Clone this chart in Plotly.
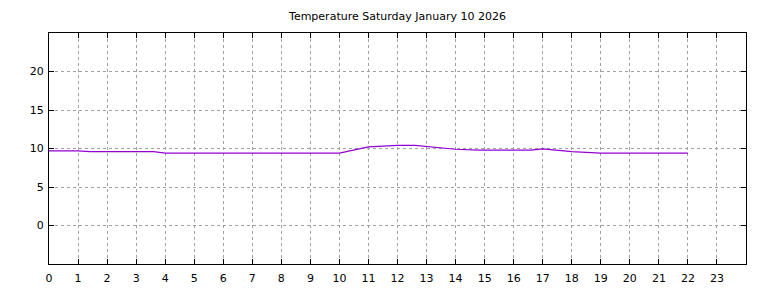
import plotly.graph_objects as go

hours = [0, 1, 1.4, 3.6, 4, 10, 11, 12, 12.6, 14, 14.8, 16.6, 17, 18, 19, 22]
temps = [9.7, 9.7, 9.6, 9.6, 9.4, 9.4, 10.2, 10.4, 10.4, 9.9, 9.8, 9.8, 9.95, 9.6, 9.4, 9.4]
x_ticks = list(range(0, 24))
y_ticks = [0, 5, 10, 15, 20]
title = "Temperature Saturday January 10 2026"

fig = go.Figure()
fig.add_trace(go.Scatter(x=hours, y=temps, mode="lines",
                         line=dict(color="#9400D3", width=1.2), showlegend=False))

axis_common = dict(
    showline=True, linecolor="black", linewidth=1, mirror="allticks",
    ticks="inside", ticklen=5, tickcolor="black", tickwidth=1,
    showgrid=True, gridcolor="#a0a0a0", gridwidth=1, griddash="3px,3px",
    zeroline=False, automargin=False,
    tickfont=dict(family="DejaVu Sans", size=11, color="black"),
)

fig.update_layout(
    width=768, height=288,
    margin=dict(l=49, r=22, t=33, b=24, autoexpand=False),
    paper_bgcolor="white", plot_bgcolor="white",
    title=dict(text=title, x=(49 + 746) / 2 / 768, xanchor="center",
               y=1 - 16 / 288, yanchor="middle",
               font=dict(family="DejaVu Sans", size=11, color="black")),
    xaxis=dict(range=[0, 24], tickvals=x_ticks, ticktext=[str(v) for v in x_ticks],
               ticklabelstandoff=4, **axis_common),
    yaxis=dict(range=[-5, 25], tickvals=y_ticks, ticktext=[str(v) for v in y_ticks],
               ticklabelstandoff=2, **axis_common),
)

fig.write_html("out.html")
